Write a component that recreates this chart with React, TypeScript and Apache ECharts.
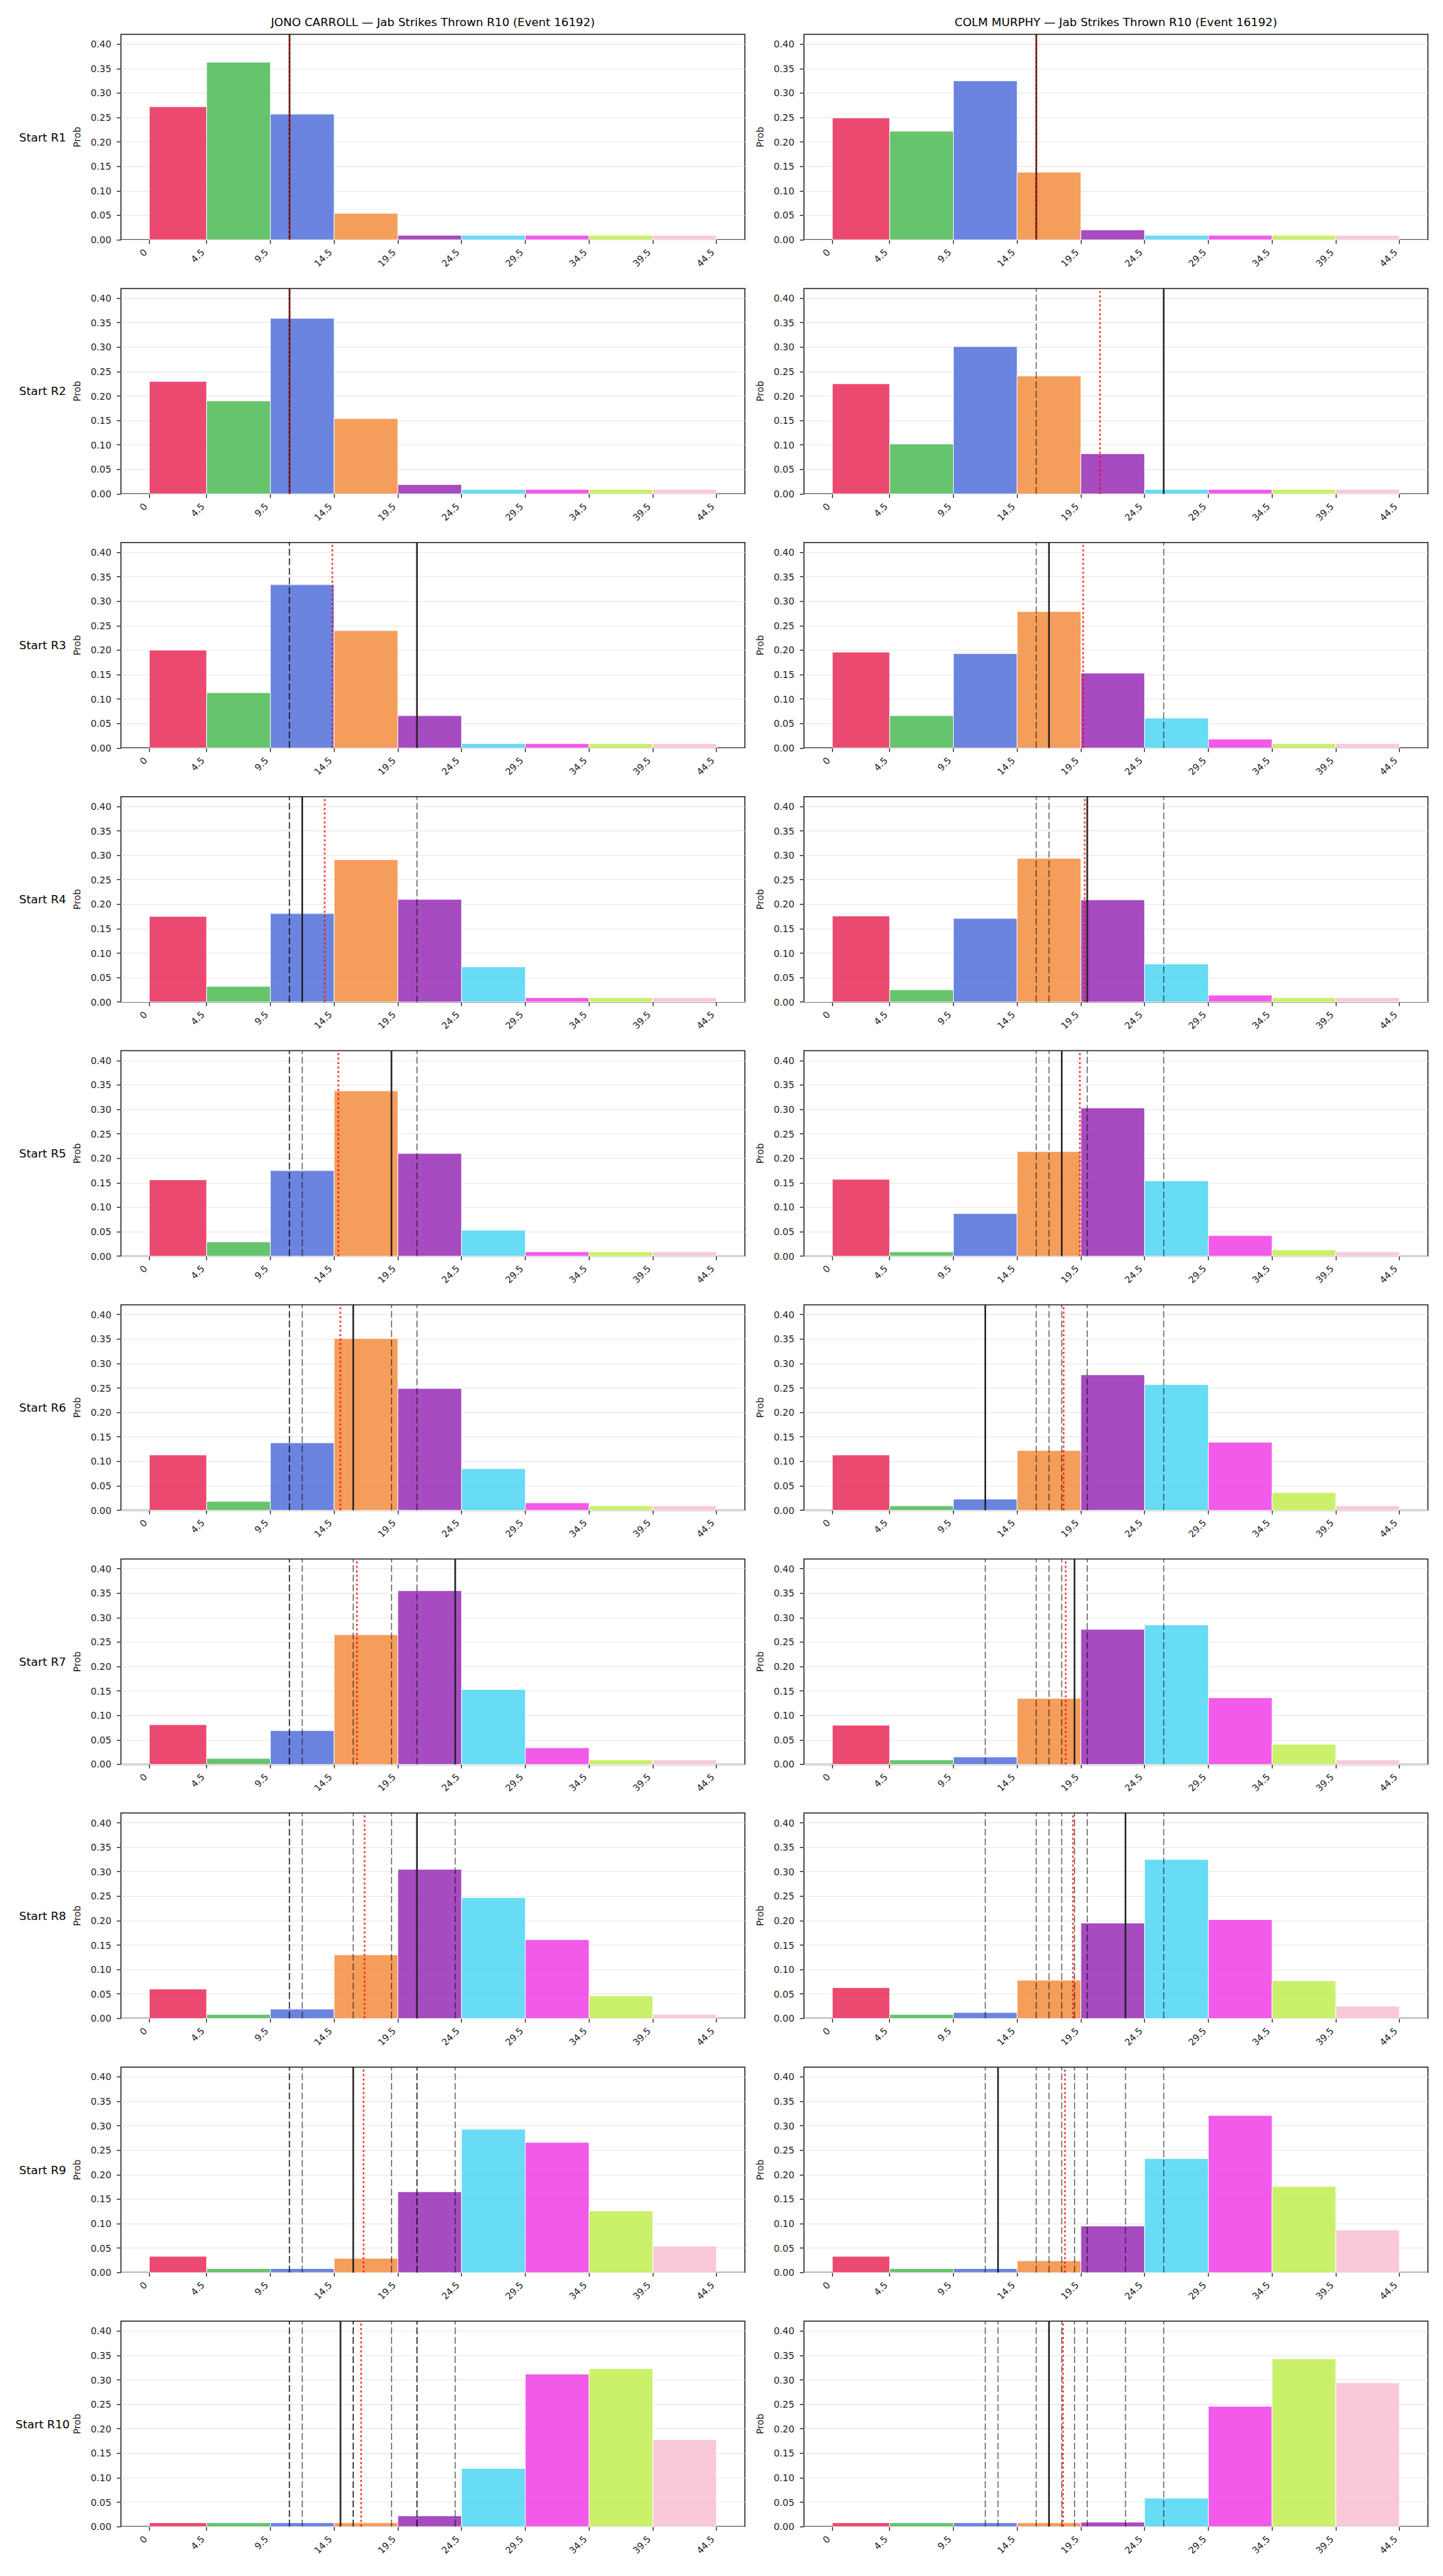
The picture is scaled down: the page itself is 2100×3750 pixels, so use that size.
import React, { useEffect, useRef } from "react";
import * as echarts from "echarts";

// Histogram bin edges (jab strikes thrown through R10) and x tick labels
const binEdges = [0, 4.5, 9.5, 14.5, 19.5, 24.5, 29.5, 34.5, 39.5, 44.5];
const binColors = ["#E92957", "#4BBA54", "#516EDA", "#F38C3E", "#962CB5", "#4DD5F3", "#F03DE6", "#C2ED4F", "#F8BFD3"];
const yTicks = [0, 0.05, 0.1, 0.15, 0.2, 0.25, 0.3, 0.35, 0.4];
const startRounds = ["R1", "R2", "R3", "R4", "R5", "R6", "R7", "R8", "R9", "R10"];

// JONO CARROLL — probability per bin, one row per starting round
const carrollProbs = [
  [0.272, 0.363, 0.257, 0.054, 0.009, 0.009, 0.009, 0.009, 0.009],
  [0.230, 0.190, 0.359, 0.154, 0.019, 0.009, 0.009, 0.009, 0.009],
  [0.200, 0.113, 0.334, 0.240, 0.066, 0.009, 0.009, 0.009, 0.009],
  [0.175, 0.032, 0.181, 0.291, 0.210, 0.072, 0.009, 0.009, 0.009],
  [0.156, 0.029, 0.175, 0.338, 0.210, 0.053, 0.009, 0.009, 0.009],
  [0.113, 0.018, 0.138, 0.351, 0.249, 0.085, 0.015, 0.009, 0.009],
  [0.081, 0.012, 0.069, 0.265, 0.355, 0.153, 0.034, 0.009, 0.009],
  [0.060, 0.008, 0.019, 0.130, 0.305, 0.247, 0.161, 0.046, 0.008],
  [0.033, 0.008, 0.008, 0.029, 0.165, 0.293, 0.266, 0.126, 0.054],
  [0.008, 0.008, 0.008, 0.008, 0.022, 0.119, 0.312, 0.323, 0.178],
];
// Solid reference line for each starting round, and the dotted mean
const carrollLines = [11, 11, 21, 12, 19, 16, 24, 21, 16, 15];
const carrollMeans = [11.0, 11.0, 14.36, 13.76, 14.83, 14.99, 16.29, 16.89, 16.81, 16.62];

// COLM MURPHY
const murphyProbs = [
  [0.249, 0.222, 0.325, 0.138, 0.020, 0.009, 0.009, 0.009, 0.009],
  [0.225, 0.102, 0.301, 0.241, 0.082, 0.009, 0.009, 0.009, 0.009],
  [0.196, 0.066, 0.193, 0.279, 0.153, 0.061, 0.018, 0.009, 0.009],
  [0.176, 0.025, 0.171, 0.294, 0.209, 0.078, 0.014, 0.009, 0.009],
  [0.157, 0.009, 0.087, 0.214, 0.303, 0.154, 0.042, 0.013, 0.009],
  [0.113, 0.009, 0.023, 0.122, 0.277, 0.257, 0.139, 0.036, 0.009],
  [0.080, 0.009, 0.015, 0.135, 0.276, 0.285, 0.136, 0.041, 0.009],
  [0.063, 0.008, 0.012, 0.078, 0.195, 0.325, 0.202, 0.077, 0.025],
  [0.033, 0.008, 0.008, 0.024, 0.095, 0.233, 0.321, 0.176, 0.087],
  [0.008, 0.008, 0.008, 0.008, 0.009, 0.058, 0.246, 0.343, 0.294],
];
const murphyLines = [16, 26, 17, 20, 18, 12, 19, 23, 13, 17];
const murphyMeans = [16.0, 21.0, 19.68, 19.8, 19.42, 18.15, 18.31, 18.88, 18.25, 18.1];

const fighters = [
  { name: "JONO CARROLL", probs: carrollProbs, lines: carrollLines, means: carrollMeans },
  { name: "COLM MURPHY", probs: murphyProbs, lines: murphyLines, means: murphyMeans },
];

const WIDTH = 2100;
const HEIGHT = 3750;
const GRID_LEFT = [176, 1170];
const GRID_W = 908;
const GRID_H = 299;
const FIRST_TOP = 50;
const ROW_PITCH = 369.9;
const X_MIN = -2.225;
const X_MAX = 46.725;
const Y_MAX = 0.42;
const FONT = '"DejaVu Sans", "Liberation Sans", sans-serif';
const INK = "#222222";

function buildOption() {
  const grid: any[] = [];
  const xAxis: any[] = [];
  const yAxis: any[] = [];
  const series: any[] = [];
  const graphic: any[] = [];

  fighters.forEach((f, c) => {
    const left = GRID_LEFT[c];
    graphic.push({
      type: "text",
      x: left + GRID_W / 2,
      y: 32,
      style: {
        text: `${f.name} — Jab Strikes Thrown R10 (Event 16192)`,
        font: `16.7px ${FONT}`,
        fill: "#000",
        align: "center",
        verticalAlign: "middle",
        textAlign: "center",
        textVerticalAlign: "middle",
      },
    });

    f.probs.forEach((row, r) => {
      const p = grid.length;
      const top = FIRST_TOP + r * ROW_PITCH;
      grid.push({
        left,
        top,
        width: GRID_W,
        height: GRID_H,
        show: true,
        borderColor: INK,
        borderWidth: 1.5,
        backgroundColor: "transparent",
      });
      xAxis.push({
        type: "value",
        gridIndex: p,
        min: X_MIN,
        max: X_MAX,
        axisLine: { show: false, onZero: false },
        splitLine: { show: false },
        axisTick: {
          show: true,
          customValues: binEdges,
          length: 6,
          lineStyle: { color: INK, width: 1.3 },
        },
        axisLabel: {
          show: true,
          customValues: binEdges,
          rotate: 45,
          margin: 10,
          padding: [0, 8, 0, 0],
          fontSize: 13.5,
          fontFamily: FONT,
          color: INK,
          formatter: (v: number) => String(v),
        },
      });
      yAxis.push({
        type: "value",
        gridIndex: p,
        min: 0,
        max: Y_MAX,
        interval: 0.05,
        axisLine: { show: false, onZero: false },
        splitLine: { show: true, lineStyle: { color: "#e6e6e6", width: 1 } },
        axisTick: {
          show: true,
          customValues: yTicks,
          length: 6,
          lineStyle: { color: INK, width: 1.3 },
        },
        axisLabel: {
          show: true,
          customValues: yTicks,
          margin: 14,
          fontSize: 13.5,
          fontFamily: FONT,
          color: INK,
          formatter: (v: number) => v.toFixed(2),
        },
      });

      // histogram bars
      series.push({
        type: "custom",
        xAxisIndex: p,
        yAxisIndex: p,
        silent: true,
        z: 2,
        encode: { x: [0, 1], y: 2 },
        data: row.map((v, i) => [binEdges[i], binEdges[i + 1], v, i]),
        renderItem: (_params: any, api: any) => {
          const x0 = api.value(0);
          const x1 = api.value(1);
          const v = api.value(2);
          const ci = api.value(3);
          const tl = api.coord([x0, v]);
          const br = api.coord([x1, 0]);
          return {
            type: "rect",
            shape: { x: tl[0], y: tl[1], width: br[0] - tl[0], height: br[1] - tl[1] },
            style: { fill: binColors[ci], stroke: "#ffffff", lineWidth: 1, opacity: 0.85 },
          };
        },
      });

      const vline = (x: number, lineStyle: any, z: number) => ({
        type: "line",
        xAxisIndex: p,
        yAxisIndex: p,
        silent: true,
        symbol: "none",
        z,
        data: [
          [x, 0],
          [x, Y_MAX],
        ],
        lineStyle,
      });

      // reference lines of earlier starting rounds
      for (let j = 0; j < r; j++) {
        series.push(vline(f.lines[j], { color: "rgba(0,0,0,0.6)", width: 1.5, type: [10, 4] }, 3));
      }
      series.push(vline(f.lines[r], { color: INK, width: 2.4, type: "solid" }, 4));
      series.push(vline(f.means[r], { color: "rgba(255,0,0,0.8)", width: 2.4, type: [3, 3.5] }, 5));

      const cy = top + GRID_H / 2;
      graphic.push({
        type: "text",
        x: left - 64,
        y: cy,
        rotation: Math.PI / 2,
        style: {
          text: "Prob",
          font: `13.5px ${FONT}`,
          fill: INK,
          align: "center",
          verticalAlign: "middle",
          textAlign: "center",
          textVerticalAlign: "middle",
        },
      });
      if (c === 0) {
        graphic.push({
          type: "text",
          x: 62,
          y: cy,
          style: {
            text: `Start ${startRounds[r]}`,
            font: `16.7px ${FONT}`,
            fill: "#000",
            align: "center",
            verticalAlign: "middle",
            textAlign: "center",
            textVerticalAlign: "middle",
          },
        });
      }
    });
  });

  return {
    animation: false,
    backgroundColor: "#ffffff",
    grid,
    xAxis,
    yAxis,
    series,
    graphic,
  };
}

export default function App() {
  const ref = useRef<HTMLDivElement>(null);
  useEffect(() => {
    if (!ref.current) return;
    const chart = echarts.init(ref.current, null, { renderer: "svg", width: WIDTH, height: HEIGHT });
    chart.setOption(buildOption() as any);
    return () => chart.dispose();
  }, []);
  return (
    <div
      ref={ref}
      style={{ position: "absolute", left: 0, top: 0, width: WIDTH, height: HEIGHT, background: "#fff" }}
    />
  );
}
